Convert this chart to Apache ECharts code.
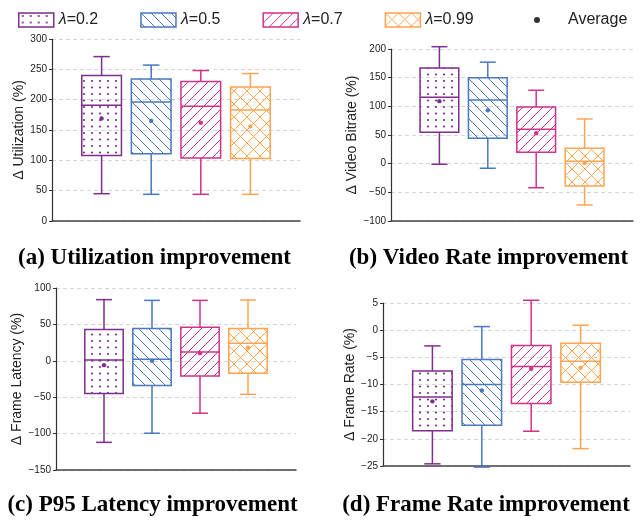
<!DOCTYPE html>
<html lang="en">
<head>
  <meta charset="utf-8">
</head>
<body style="margin: 0">
  <div id="container" style="width: 644px; height: 522px"></div>

  <script type="text/javascript" src="https://cdn.jsdelivr.net/npm/echarts@6/dist/echarts.min.js"></script>

  <script type="text/javascript">
    var lambdas = ['λ=0.2', 'λ=0.5', 'λ=0.7', 'λ=0.99'];
    var colors = ['#7E2E8E', '#4878BD', '#D0328A', '#FFA450'];
    var hatches = ['dots', 'back', 'fwd', 'cross'];

    // each row: [low, q1, median, q3, high, mean]
    var utilization = [
      [45, 108, 191, 240, 271, 169],
      [44, 111, 196, 234, 257, 165],
      [44, 104, 189, 230, 248, 162],
      [44, 103, 183, 221, 243, 156]
    ];
    var videoBitrate = [
      [-1, 55, 116, 167, 204, 109],
      [-8, 44.5, 111, 150, 177, 93],
      [-42, 20, 60, 99, 128, 53],
      [-72, -39, 4, 27, 78, 1]
    ];
    var frameLatency = [
      [-112, -45, 1, 43, 84, -6],
      [-99.5, -34, 2, 44.5, 83, 0],
      [-72, -21, 12, 46, 83, 10.5],
      [-46, -17, 24, 44.5, 83.5, 18]
    ];
    var frameRate = [
      [-24.6, -18.5, -12.3, -7.5, -2.9, -13.1],
      [-25.2, -17.5, -10, -5.4, 0.66, -11.1],
      [-18.6, -13.5, -6.7, -2.8, 5.5, -7.1],
      [-21.8, -9.6, -5.7, -2.4, 0.9, -6.9]
    ];

    var panelData = [utilization, videoBitrate, frameLatency, frameRate];
    var yNames = ['Δ Utilization (%)', 'Δ Video Bitrate (%)', 'Δ Frame Latency (%)', 'Δ Frame Rate (%)'];
    // [min, max, interval]
    var yRanges = [[0, 300, 50], [-100, 200, 50], [-150, 100, 50], [-25, 5, 5]];
    var captions = ['(a) Utilization improvement', '(b) Video Rate improvement',
                    '(c) P95 Latency improvement', '(d) Frame Rate improvement'];

    var FONT = '"Liberation Sans", Arial, sans-serif';

    function makePattern(kind, color) {
      var c = document.createElement('canvas');
      var s = kind === 'cross' ? 13 : 10;
      c.width = kind === 'dots' ? 8 : s;
      c.height = kind === 'dots' ? 13 : s;
      var ctx = c.getContext('2d');
      ctx.fillStyle = color;
      ctx.strokeStyle = color;
      ctx.lineWidth = 1;
      if (kind === 'dots') {
        [[4, 3], [4, 9.5]].forEach(function (p) {
          ctx.beginPath();
          ctx.arc(p[0], p[1], 1.1, 0, 2 * Math.PI);
          ctx.fill();
        });
      } else {
        for (var o = -s; o <= s; o += s) {
          if (kind === 'back' || kind === 'cross') {
            ctx.beginPath(); ctx.moveTo(o, 0); ctx.lineTo(o + s, s); ctx.stroke();
          }
          if (kind === 'fwd' || kind === 'cross') {
            ctx.beginPath(); ctx.moveTo(o + s, 0); ctx.lineTo(o, s); ctx.stroke();
          }
        }
      }
      return { image: c, repeat: 'repeat' };
    }

    var patterns = hatches.map(function (h, k) { return makePattern(h, colors[k]); });

    function renderBox(params, api) {
      var k = api.value(7);
      var band = api.size([1, 0])[0];
      var cx = api.coord([0, 0])[0] + (k - 1.5) * band * 0.2;
      var hw = band * 0.08;
      var cap = band * 0.033;
      var y = function (d) { return api.coord([0, api.value(d)])[1]; };
      var low = y(1), q1 = y(2), med = y(3), q3 = y(4), high = y(5), mean = y(6);
      var col = colors[k];
      function ln(x1, y1, x2, y2) {
        return { type: 'line', shape: { x1: x1, y1: y1, x2: x2, y2: y2 },
                 style: { stroke: col, lineWidth: 1.5 } };
      }
      return {
        type: 'group',
        children: [
          ln(cx, q3, cx, high),
          ln(cx, q1, cx, low),
          ln(cx - cap, high, cx + cap, high),
          ln(cx - cap, low, cx + cap, low),
          { type: 'rect', shape: { x: cx - hw, y: q3, width: 2 * hw, height: q1 - q3 },
            style: { fill: patterns[k], stroke: col, lineWidth: 1.5 } },
          ln(cx - hw, med, cx + hw, med),
          { type: 'circle', shape: { cx: cx, cy: mean, r: 2.2 }, style: { fill: col } }
        ]
      };
    }

    var grids = [
      { left: 52, top: 39, width: 248, height: 182 },
      { left: 391, top: 49, width: 242, height: 172 },
      { left: 56, top: 288, width: 240, height: 182 },
      { left: 383, top: 303, width: 247, height: 163 }
    ];
    var nameGaps = [26, 31, 32, 23];
    var captionPos = [[154.5, 258.5], [488.5, 258.5], [152.5, 505], [486, 505]];

    var xAxes = [], yAxes = [], series = [];
    grids.forEach(function (g, p) {
      g.outerBoundsMode = 'none';
      xAxes.push({
        type: 'category', gridIndex: p, data: [''],
        axisLine: { onZero: false, lineStyle: { color: '#444', width: 1.5 } },
        axisTick: { alignWithLabel: true, length: 4, lineStyle: { color: '#444' } },
        axisLabel: { show: false },
        splitLine: { show: false }
      });
      yAxes.push({
        type: 'value', gridIndex: p,
        min: yRanges[p][0], max: yRanges[p][1], interval: yRanges[p][2],
        name: yNames[p], nameLocation: 'middle', nameGap: nameGaps[p],
        nameTextStyle: { fontFamily: FONT, fontSize: 14, color: '#222' },
        axisLine: { show: true, lineStyle: { color: '#333', width: 1.2 } },
        axisTick: { show: true, length: 3, lineStyle: { color: '#333' } },
        axisLabel: {
          fontFamily: FONT, fontSize: 10, color: '#222', margin: 5,
          formatter: function (v) { return v < 0 ? '\u2212' + Math.abs(v) : String(v); }
        },
        splitLine: { show: true, lineStyle: { color: '#ccc', width: 0.8, type: [4, 3] } }
      });
      panelData[p].forEach(function (row, k) {
        series.push({
          type: 'custom', name: lambdas[k],
          xAxisIndex: p, yAxisIndex: p,
          renderItem: renderBox,
          encode: { x: 0, y: [1, 2, 3, 4, 5, 6] },
          itemStyle: { color: patterns[k], borderColor: colors[k], borderWidth: 1.5 },
          data: [[0].concat(row, [k])],
          z: 3
        });
      });
    });
    series.push({ type: 'scatter', name: 'Average', data: [], itemStyle: { color: '#000' } });

    var option = {
      animation: false,
      grid: grids,
      xAxis: xAxes,
      yAxis: yAxes,
      legend: [
        {
          left: 18, top: 12, padding: 0, itemWidth: 35, itemHeight: 14, itemGap: 42,
          selectedMode: false,
          data: lambdas.map(function (n, k) {
            return { name: n, icon: 'rect',
                     itemStyle: { color: patterns[k], borderColor: colors[k], borderWidth: 1.5 } };
          }),
          formatter: function (n) { return '{i|λ}' + n.slice(1); },
          textStyle: {
            fontFamily: FONT, fontSize: 16, color: '#222',
            rich: { i: { fontStyle: 'italic', fontFamily: FONT, fontSize: 16, color: '#222' } }
          }
        },
        {
          left: 534, top: 12, padding: 0, itemWidth: 6, itemHeight: 6,
          selectedMode: false,
          data: [{ name: 'Average', icon: 'circle', itemStyle: { color: '#000' } }],
          formatter: '{g|}Average',
          textStyle: { fontFamily: FONT, fontSize: 16, color: '#222', rich: { g: { width: 23 } } }
        }
      ],
      graphic: captions.map(function (t, p) {
        return {
          type: 'text',
          style: {
            text: t, x: captionPos[p][0], y: captionPos[p][1],
            textAlign: 'center', textVerticalAlign: 'middle',
            font: 'bold 23px "Liberation Serif", "Times New Roman", serif', fill: '#000'
          }
        };
      }),
      series: series
    };

    var myChart = echarts.init(document.getElementById('container'), null, { renderer: 'canvas' });
    myChart.setOption(option);
  </script>
</body>
</html>
